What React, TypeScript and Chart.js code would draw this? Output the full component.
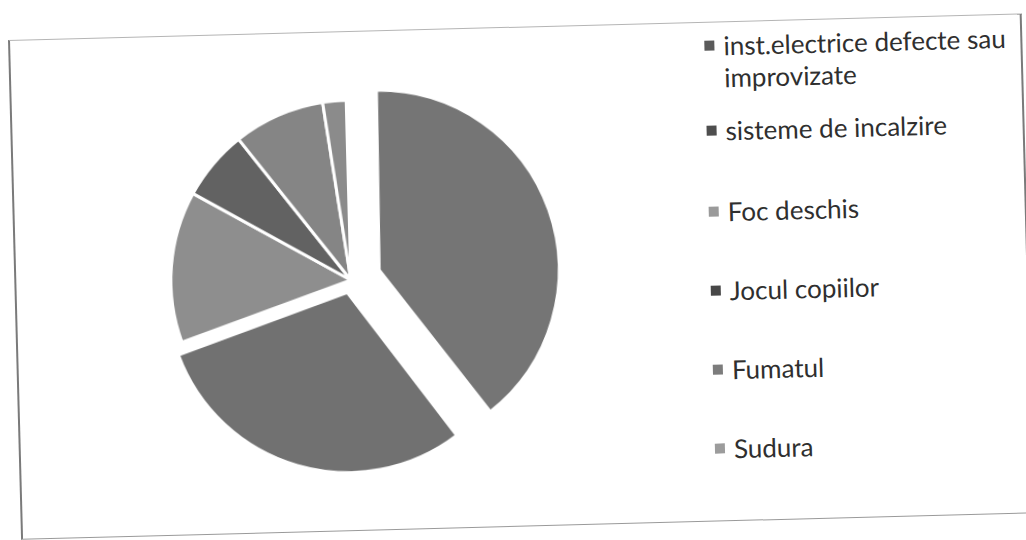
import { useEffect, useRef } from "react";
import { Chart, registerables } from "chart.js";

Chart.register(...registerables);

const categories = [
  "inst.electrice defecte sau improvizate",
  "sisteme de incalzire",
  "Foc deschis",
  "Jocul copiilor",
  "Fumatul",
  "Sudura",
];
const values = [40.0, 29.8, 13.6, 6.3, 8.2, 2.1];

const sliceColors = ["#757575", "#717171", "#8e8e8e", "#626262", "#858585", "#8b8b8b"];
const markerColors = ["#5a5a5a", "#4e4e4e", "#9a9a9a", "#474747", "#7c7c7c", "#9c9c9c"];
const sliceOffsets = [120, 52, 0, 0, 0, 0];
const PIE_RADIUS = 180;

// Chart.js grows the radius of an exploded arc; keep every slice at the same radius.
const keepRadiusPlugin = {
  id: "keepRadius",
  afterDatasetsUpdate(chart: any) {
    const meta = chart.getDatasetMeta(0);
    meta.data.forEach((arc: any, i: number) => {
      const off = (sliceOffsets[i] || 0) / 4;
      const fix = 1 - Math.sin(Math.min(Math.PI, arc.circumference || 0));
      arc.outerRadius = PIE_RADIUS - off * fix;
    });
  },
};

export default function App() {
  const canvasRef = useRef<HTMLCanvasElement | null>(null);

  useEffect(() => {
    if (!canvasRef.current) return;
    const chart = new Chart(canvasRef.current, {
      type: "pie",
      data: {
        labels: categories,
        datasets: [
          {
            data: values,
            backgroundColor: sliceColors,
            borderColor: "#ffffff",
            borderWidth: 3,
            offset: sliceOffsets,
            radius: PIE_RADIUS,
          },
        ],
      },
      options: {
        animation: false,
        responsive: true,
        maintainAspectRatio: false,
        layout: { padding: 0 },
        plugins: {
          legend: { display: false },
          tooltip: { enabled: false },
        },
      },
      plugins: [keepRadiusPlugin],
    });
    return () => chart.destroy();
  }, []);

  return (
    <div
      style={{
        position: "fixed",
        left: 0,
        top: 0,
        width: 1026,
        height: 540,
        overflow: "hidden",
        background: "#ffffff",
      }}
    >
      <div
        style={{
          position: "absolute",
          left: 8,
          top: 40,
          width: 1014,
          height: 500,
          boxSizing: "border-box",
          borderTop: "1px solid #b5b5b5",
          borderBottom: "1px solid #9a9a9a",
          borderLeft: "2px solid #7a7a7a",
          borderRight: "2px solid #7a7a7a",
          transformOrigin: "0 0",
          transform: "rotate(-1.5deg)",
        }}
      >
        <div style={{ position: "absolute", left: -2, top: -1, width: 673, height: 498 }}>
          <canvas ref={canvasRef} />
        </div>
        <div
          style={{
            position: "absolute",
            left: 694,
            top: 7,
            width: 320,
            fontFamily: "Lato, 'Open Sans', sans-serif",
            fontSize: 26,
            lineHeight: "32px",
            color: "#2f2f2f",
          }}
        >
          {categories.map((c, i) => (
            <div
              key={c}
              style={{
                display: "flex",
                alignItems: "flex-start",
                marginBottom: i === 0 ? 21 : i === 1 ? 49 : 47,
              }}
            >
              <span
                style={{
                  display: "inline-block",
                  flex: "0 0 auto",
                  width: 10,
                  height: 10,
                  marginTop: 11,
                  marginRight: 9,
                  background: markerColors[i],
                }}
              />
              <span style={{ width: 290 }}>{c}</span>
            </div>
          ))}
        </div>
      </div>
    </div>
  );
}
